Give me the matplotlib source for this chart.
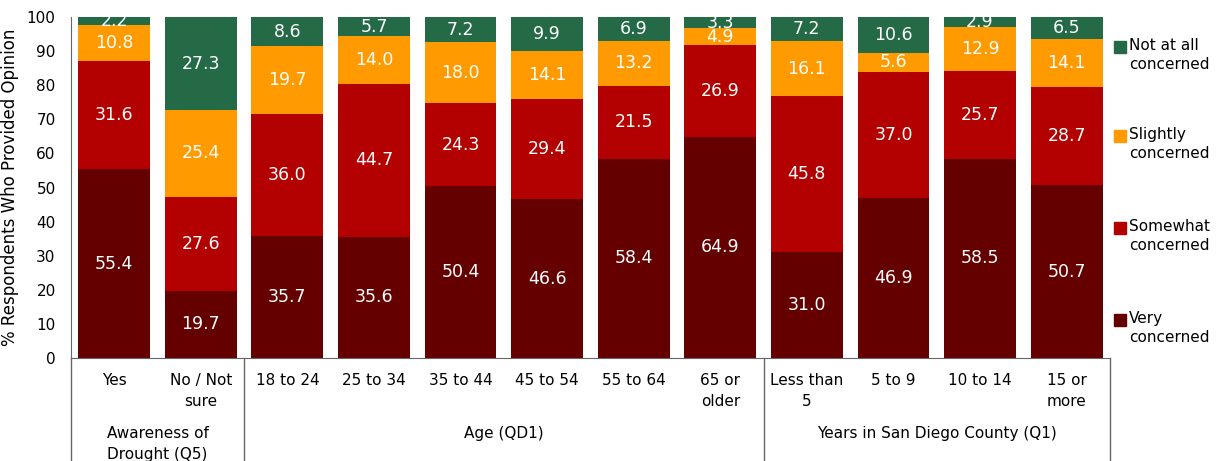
import numpy as np
import matplotlib
matplotlib.use("Agg")
import matplotlib.pyplot as plt
from matplotlib.patches import Rectangle

# Datos del grafico
categorias = ["Yes", "No / Not\nsure", "18 to 24", "25 to 34", "35 to 44", "45 to 54",
              "55 to 64", "65 or\nolder", "Less than\n5", "5 to 9", "10 to 14", "15 or\nmore"]
grupos = ["Awareness of\nDrought (Q5)", "Age (QD1)", "Years in San Diego County (Q1)"]
grupo_tam = [2, 6, 4]

very = [55.4, 19.7, 35.7, 35.6, 50.4, 46.6, 58.4, 64.9, 31.0, 46.9, 58.5, 50.7]
somewhat = [31.6, 27.6, 36.0, 44.7, 24.3, 29.4, 21.5, 26.9, 45.8, 37.0, 25.7, 28.7]
slightly = [10.8, 25.4, 19.7, 14.0, 18.0, 14.1, 13.2, 4.9, 16.1, 5.6, 12.9, 14.1]
not_at_all = [2.2, 27.3, 8.6, 5.7, 7.2, 9.9, 6.9, 3.3, 7.2, 10.6, 2.9, 6.5]

series = [very, somewhat, slightly, not_at_all]
nombres = ["Very\nconcerned", "Somewhat\nconcerned", "Slightly\nconcerned", "Not at all\nconcerned"]
colores = ["#640000", "#B30000", "#FF9A00", "#256A47"]

plt.rcParams["font.family"] = ["DejaVu Sans"]

fig = plt.figure(figsize=(12.21, 4.61), dpi=100)
ax = fig.add_axes([0.0581, 0.2234, 0.909 - 0.0581, 0.963 - 0.2234])

x = np.arange(len(categorias))
base = np.zeros(len(categorias))
for vals, col in zip(series, colores):
    vals = np.array(vals)
    ax.bar(x, vals, bottom=base, width=0.83, color=col, edgecolor="none")
    for xi, b, v in zip(x, base, vals):
        ax.text(xi, b + v / 2, f"{v:.1f}", ha="center", va="center",
                color="white", fontsize=12.5, clip_on=False)
    base = base + vals

ax.set_xlim(-0.5, len(categorias) - 0.5)
ax.set_ylim(0, 100)
ax.set_yticks(np.arange(0, 101, 10))
ax.tick_params(axis="y", length=0, labelsize=11, pad=11)
ax.set_xticks([])
ax.set_ylabel("% Respondents Who Provided Opinion", fontsize=12)
ax.yaxis.set_label_coords(-0.05, 0.5)
for s in ["top", "right"]:
    ax.spines[s].set_visible(False)
ax.spines["left"].set_color("#666666")
ax.spines["bottom"].set_color("#666666")

# Tabla bajo el eje
tr = ax.get_xaxis_transform()
for xi, cat in zip(x, categorias):
    ax.text(xi, -0.045, cat, transform=tr, ha="center", va="top", fontsize=11,
            linespacing=1.45)
bordes = np.concatenate([[0], np.cumsum(grupo_tam)]) - 0.5
for bx in bordes:
    ax.plot([bx, bx], [0, -0.4], transform=tr, color="#666666", lw=1, clip_on=False)
for g, a, b in zip(grupos, bordes[:-1], bordes[1:]):
    ax.text((a + b) / 2, -0.2, g, transform=tr, ha="center", va="top", fontsize=11,
            linespacing=1.45)

# Leyenda manual
leg_y = [320, 228, 136, 47]
for nombre, col, yy in zip(nombres, colores, leg_y):
    yf = 1 - yy / 461
    fig.patches.append(Rectangle((1114 / 1221, yf - 6 / 461), 12 / 1221, 12 / 461,
                                 transform=fig.transFigure, color=col))
    fig.text(1129 / 1221, yf + 9 / 461, nombre, ha="left", va="top", fontsize=11,
             linespacing=1.3)

fig.savefig("out.png", dpi=100)
